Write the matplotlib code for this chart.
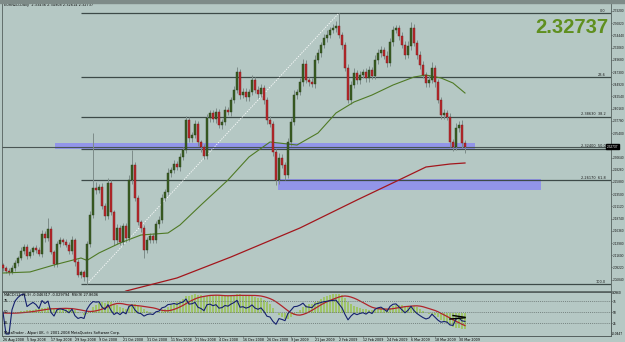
import numpy as np
import pandas as pd
import matplotlib
matplotlib.use("Agg")
import matplotlib.pyplot as plt
from matplotlib.patches import Rectangle

# ------------------------
# Data (EURNZD daily)
# ------------------------
first_open = 2.0970
close = [
    2.0912, 2.0854, 2.0835, 2.0912, 2.1010, 2.1107, 2.1244, 2.1321, 2.1146, 2.1224,
    2.1302, 2.1263, 2.1185, 2.1575, 2.1497, 2.1672, 2.1224, 2.0990, 2.1380, 2.1458,
    2.1419, 2.1360, 2.1244, 2.1458, 2.1029, 2.0776, 2.0835, 2.0737, 2.1380, 2.1945,
    2.2471, 2.2432, 2.2490, 2.2120, 2.1925, 2.2568, 2.2003, 2.1458, 2.1692, 2.1419,
    2.1731, 2.1497, 2.2627, 2.2919, 2.2276, 2.1808, 2.1692, 2.1263, 2.1458, 2.1536,
    2.1458, 2.1769, 2.1847, 2.2276, 2.2393, 2.2763, 2.2821, 2.2938, 2.2880, 2.3075,
    2.3211, 2.3795, 2.3445, 2.3503, 2.3717, 2.3367, 2.3269, 2.3094, 2.3834, 2.3932,
    2.3815, 2.3951, 2.3698, 2.3756, 2.3990, 2.3951, 2.4185, 2.4380, 2.4730, 2.4282,
    2.4341, 2.4243, 2.4341, 2.4575, 2.4380, 2.4302, 2.4419, 2.4185, 2.3795, 2.3717,
    2.3172, 2.2627, 2.3055, 2.2919, 2.2724, 2.3367, 2.3756, 2.4282, 2.4341, 2.4536,
    2.4886, 2.4575, 2.4536, 2.4497, 2.4964, 2.5101, 2.5256, 2.5393, 2.5451, 2.5549,
    2.5588, 2.5627, 2.5451, 2.5256, 2.4808, 2.4185, 2.4477, 2.4711, 2.4575, 2.4672,
    2.4730, 2.4614, 2.4769, 2.4653, 2.4964, 2.5101, 2.5159, 2.5042, 2.4906, 2.5315,
    2.5549, 2.5588, 2.5432, 2.5256, 2.5062, 2.5237, 2.5588, 2.5295, 2.5062, 2.4867,
    2.4672, 2.4516, 2.4575, 2.4808, 2.4536, 2.4185, 2.3893, 2.3932, 2.3854, 2.3367,
    2.3269, 2.3640, 2.3698, 2.3347, 2.32737,
]
# wick lengths above / below the body, in 0.001
wick_up = [
    4, 3, 5, 6, 5, 4, 7, 5, 6, 5, 4, 6, 5, 8, 6, 21, 5, 4, 6, 5,
    4, 5, 6, 7, 4, 5, 3, 4, 6, 8, 107, 12, 6, 8, 5, 10, 6, 4, 7, 5,
    6, 5, 10, 29, 6, 5, 4, 5, 6, 5, 5, 6, 7, 8, 6, 9, 5, 7, 6, 8,
    6, 8, 5, 6, 7, 5, 4, 6, 8, 6, 5, 7, 6, 5, 8, 6, 5, 7, 10, 6,
    8, 7, 6, 9, 6, 7, 8, 6, 5, 7, 5, 6, 9, 7, 6, 8, 7, 9, 6, 8,
    10, 7, 6, 8, 9, 7, 6, 8, 9, 6, 7, 9, 25, 6, 5, 7, 8, 9, 6, 7,
    6, 8, 7, 6, 9, 8, 7, 6, 9, 8, 7, 6, 6, 8, 7, 9, 12, 7, 6, 8,
    7, 6, 9, 12, 6, 5, 6, 8, 5, 7, 6, 9, 8, 10, 5,
]
wick_dn = [
    5, 4, 6, 4, 5, 6, 4, 5, 6, 4, 5, 6, 4, 5, 7, 5, 4, 6, 5, 6,
    5, 4, 6, 5, 7, 4, 6, 7, 14, 5, 6, 7, 5, 6, 8, 5, 6, 9, 7, 6,
    5, 7, 6, 8, 5, 6, 7, 16, 6, 5, 6, 5, 7, 6, 5, 6, 7, 5, 6, 7,
    6, 5, 7, 8, 6, 7, 9, 6, 5, 7, 6, 8, 5, 7, 6, 5, 8, 6, 5, 7,
    6, 7, 8, 5, 6, 7, 6, 8, 7, 6, 8, 10, 7, 6, 9, 5, 7, 6, 8, 6,
    7, 6, 8, 5, 7, 6, 8, 6, 7, 5, 6, 7, 5, 8, 6, 6, 7, 6, 8, 7,
    6, 8, 7, 6, 5, 7, 8, 6, 7, 6, 8, 6, 7, 6, 8, 5, 7, 6, 8, 7,
    6, 8, 7, 5, 9, 6, 8, 7, 6, 9, 8, 6, 7, 9, 12,
]

# moving averages, read as vertices (bar index, price)
ma_green_bars = [0, 9, 17, 26, 28, 32, 39, 46, 55, 59, 66, 75, 82, 89, 92, 98, 105, 111, 117, 123, 130, 137, 141, 146, 150, 154]
ma_green_vals = [2.0815, 2.0835, 2.0971, 2.1107, 2.1060, 2.1205, 2.1399, 2.1555, 2.1594, 2.1750, 2.2140, 2.2627, 2.3075,
                 2.3367, 2.3347, 2.3308, 2.3542, 2.3932, 2.4146, 2.4282, 2.4477, 2.4633, 2.4672, 2.4614, 2.4516, 2.4321]
ma_red_bars = [36, 41, 58, 76, 99, 118, 132, 141, 149, 154]
ma_red_vals = [2.0328, 2.0464, 2.0718, 2.1127, 2.1692, 2.2237, 2.2627, 2.2880, 2.2938, 2.2958]

# fibonacci retracement anchors
fib_low_bar, fib_low = 28, 2.0600
fib_high_bar, fib_high = 112, 2.5880
fib_levels = [0.0, 23.6, 38.2, 50.0, 61.8, 100.0]

# support / resistance zones: (bar from, bar to, price low, price high)
zones = [(17.3, 157.3, 2.3231, 2.3348), (91.7, 179.3, 2.2432, 2.2646)]

date_labels = ["26 Aug 2008", "5 Sep 2008", "17 Sep 2008", "29 Sep 2008", "9 Oct 2008",
               "21 Oct 2008", "31 Oct 2008", "11 Nov 2008", "21 Nov 2008", "4 Dec 2008",
               "16 Dec 2008", "26 Dec 2008", "9 Jan 2009", "21 Jan 2009", "2 Feb 2009",
               "12 Feb 2009", "24 Feb 2009", "6 Mar 2009", "18 Mar 2009", "30 Mar 2009"]
price_ticks = [2.5920 - 0.0238 * k for k in range(23)]

header = "EURNZD,Daily  2.33436 2.34908 2.32614 2.32737"
macd_header = "MACD(12,26,9) -0.046317 -0.029794  RSI(9) 27.8606"
last_price = "2.32737"

# ------------------------
# Derived series
# ------------------------
c = np.array(close)
o = np.concatenate([[first_open], c[:-1]])
hi = np.maximum(o, c) + np.array(wick_up) / 1000.0
lo = np.minimum(o, c) - np.array(wick_dn) / 1000.0
x = np.arange(len(c))

s = pd.Series(c)
macd = s.ewm(span=12, adjust=False).mean() - s.ewm(span=26, adjust=False).mean()
signal = macd.rolling(9, min_periods=1).mean()
d = s.diff().fillna(0)
gain = d.clip(lower=0).ewm(alpha=1 / 9, adjust=False).mean()
loss = (-d.clip(upper=0)).ewm(alpha=1 / 9, adjust=False).mean()
rsi = 100 - 100 / (1 + gain / loss.replace(0, np.nan))
rsi = rsi.fillna(50)

# ------------------------
# Figure
# ------------------------
bg = "#b5c8c4"
W, H = 625, 342
TXT = 2.5
AX_FONT = dict(family="Liberation Sans", size=2.3)
fig = plt.figure(figsize=(W / 100, H / 100), dpi=100, facecolor=bg)
fig.patches.append(Rectangle((0, 1 - 3 / H), 1, 3 / H, transform=fig.transFigure,
                             color="#7e8b88", zorder=0))

ax = fig.add_axes([2 / W, 1 - 291 / H, 609 / W, 288 / H], facecolor=bg)
ax.set_xlim(-0.33, 202.67)
ax.set_ylim(2.0464, 2.6075)

# zones
for b0, b1, p0, p1 in zones:
    ax.add_patch(Rectangle((b0, p0), b1 - b0, p1 - p0, color="#8c8cf0", alpha=0.85, lw=0, zorder=1))

# fib lines
rng = fib_high - fib_low
for lv in fib_levels:
    p = fib_high - lv / 100 * rng
    ax.hlines(p, fib_low_bar - 2, 202.67, color="#3d4a48", lw=0.9, zorder=2)
    txt = f"{lv:.1f}" if lv in (0.0, 23.6, 100.0) else f"{p:.5f}  {lv:.1f}"
    ax.text(200.9, p + 0.0008, txt, fontsize=TXT, ha="right", va="bottom", color="#1a1a1a", zorder=6)
ax.plot([fib_low_bar, fib_high_bar], [fib_low, fib_high], color="white", lw=0.6, ls=(0, (1.5, 1.5)), zorder=2)

# bid line
ax.axhline(float(last_price), color="#4a5654", lw=0.8, zorder=2)

# moving averages
ax.plot(ma_green_bars, ma_green_vals, color="#4f7a25", lw=0.8, zorder=4)
ax.plot(ma_red_bars, ma_red_vals, color="#a3161c", lw=0.9, zorder=4)

# candles
up = c >= o
ax.vlines(x, lo, hi, color="#7d8c89", lw=0.7, zorder=3)
ax.bar(x[up], (c - o)[up] + 0.0008, bottom=o[up], width=0.7, color="#3b5e22", edgecolor="#26401a", lw=0.3, zorder=5)
ax.bar(x[~up], (o - c)[~up] + 0.0008, bottom=c[~up], width=0.7, color="#b8282c", edgecolor="#7a1a1a", lw=0.3, zorder=5)

# right price scale (the last-price box covers the tick next to it)
shown_ticks = [v for v in price_ticks if abs(v - float(last_price)) > 0.008]
ax.yaxis.tick_right()
ax.set_yticks(shown_ticks)
ax.set_yticklabels([f"{v:.5f}" for v in shown_ticks], fontdict=AX_FONT)
ax.tick_params(axis="y", length=1.0, width=0.4, pad=0.4, colors="#1a1a1a")
ax.set_xticks([])
for sp in ax.spines.values():
    sp.set_color("#55605e")
    sp.set_linewidth(0.6)

ax.text(201.2, float(last_price), last_price, color="white", ha="left", va="center",
        bbox=dict(boxstyle="square,pad=0.2", fc="black", ec="black"), zorder=7, clip_on=False,
        **{"fontfamily": "Liberation Sans", "fontsize": 2.3})
ax.text(0.5, 2.6035, header, fontsize=TXT, ha="left", va="center", color="black")
ax.text(201.7, 2.5607, last_price, fontsize=14.5, fontweight="bold", family="Liberation Sans",
        color="#5f8f1f", ha="right", va="center")

# ------------------------
# MACD / RSI panel
# ------------------------
ax2 = fig.add_axes([2 / W, 1 - 336 / H, 609 / W, 44 / H], facecolor=bg)
ax2.set_xlim(-0.33, 202.67)
ax2.set_ylim(-4.5, 95.5)
axm = ax2.twinx()
axm.set_ylim(-0.0588, 0.0537)
axm.bar(x, macd, width=0.6, color="#9fc46a", lw=0, zorder=1)
axm.plot(x, signal, color="#b0242a", lw=0.9, zorder=2)
axm.set_yticks([])
ax2.set_zorder(axm.get_zorder() + 1)
ax2.patch.set_visible(False)
axm.set_facecolor(bg)

for lv in (75, 50, 25):
    ax2.axhline(lv, color="#606b69", lw=0.5, ls=(0, (1.5, 1.5)))
    ax2.text(0.3, lv, str(lv), fontsize=TXT, va="center", ha="left")
ax2.plot(x, rsi, color="#15206e", lw=0.8)
ax2.plot([149, 154], [34, 37], color="black", lw=1.0)
ax2.plot([150, 154], [42, 38], color="black", lw=1.0)

ax2.yaxis.tick_right()
ax2.set_yticks([75, 50, 25])
ax2.set_yticklabels(["75", "50", "25"], fontdict=AX_FONT)
ax2.tick_params(axis="y", length=1.0, width=0.4, pad=0.4)
ax2.text(202.9, 93, "0.0960", va="center", ha="left", clip_on=False, fontdict=AX_FONT)
ax2.text(202.9, -1, "-0.0447", va="center", ha="left", clip_on=False, fontdict=AX_FONT)
ax2.text(0.3, 88, macd_header, fontsize=TXT, va="center", ha="left")
ax2.text(0.3, 3, "MetaTrader - Alpari UK, \u00a9 2001-2008 MetaQuotes Software Corp.",
         fontsize=TXT, va="center", ha="left")

ax2.set_xticks(list(range(0, 8 * len(date_labels), 8)))
ax2.set_xticklabels(date_labels, fontsize=2.3, ha="left")
ax2.tick_params(axis="x", length=1.0, width=0.4, pad=0.4)
for a in (ax2, axm):
    for sp in a.spines.values():
        sp.set_color("#55605e")
        sp.set_linewidth(0.6)

fig.savefig("out.png", dpi=100, facecolor=bg)
